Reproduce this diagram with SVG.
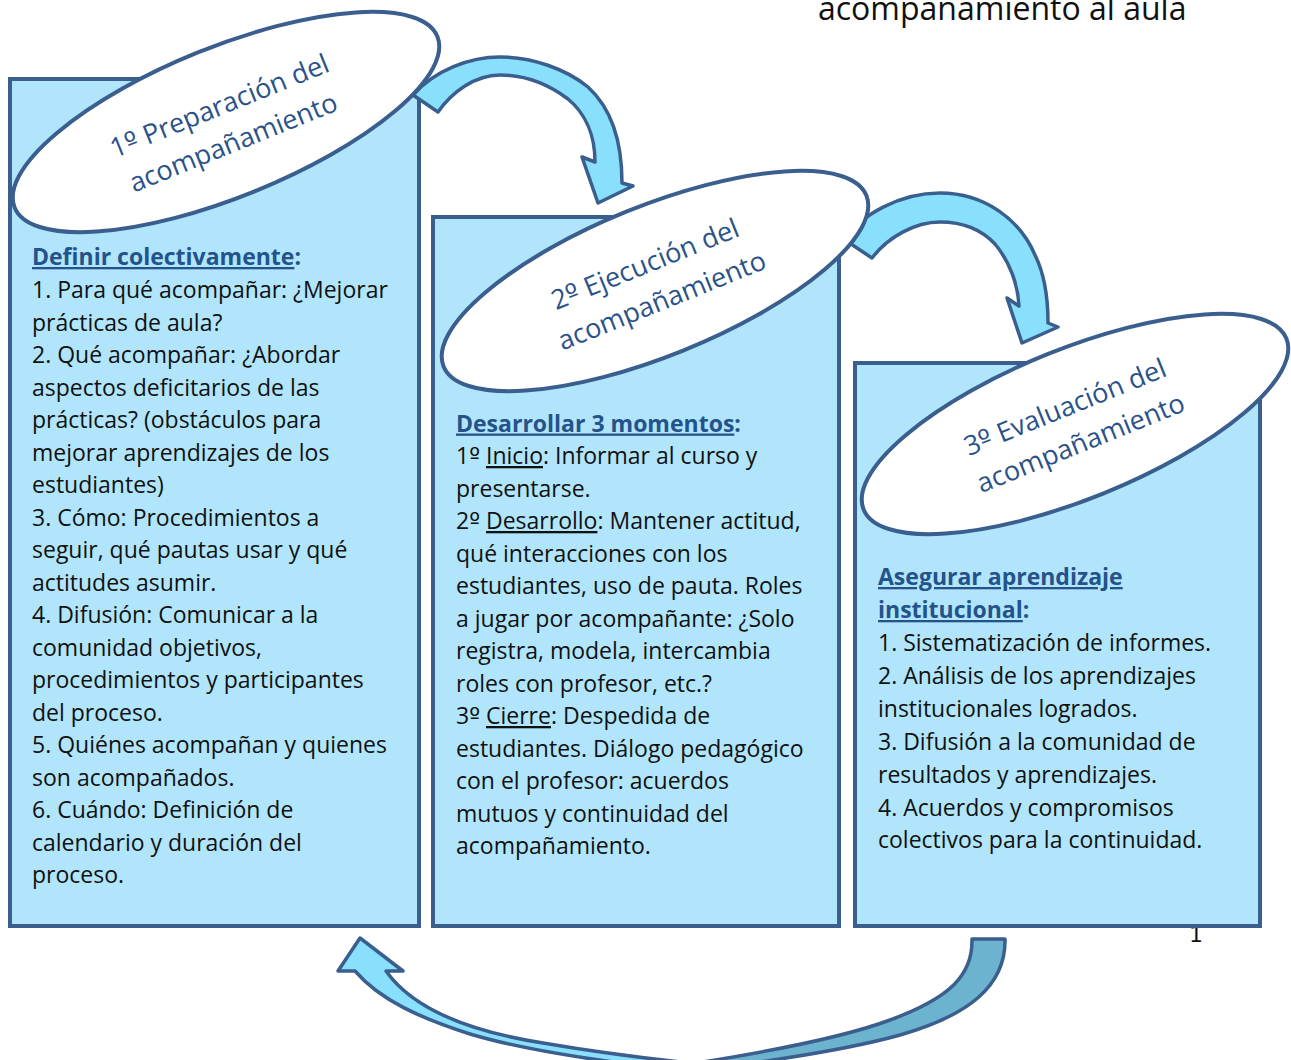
<svg xmlns="http://www.w3.org/2000/svg" width="1291" height="1060" viewBox="0 0 1291 1060">
<style>
.box{fill:#b0e5fc;stroke:#3a5f8e;stroke-width:4}
.ell{fill:#ffffff;stroke:#3a5f8e;stroke-width:4}
.arr{fill:#88e0fd;stroke:#3a5f8e;stroke-width:3.5;stroke-linejoin:round}
.arrd{fill:#6cb3cf;stroke:#3a5f8e;stroke-width:3.5;stroke-linejoin:round}
.t{font-family:"Open Sans",sans-serif;font-size:23px;fill:#111111}
.h{font-weight:bold;fill:#24528a}
.u{text-decoration:underline}
.o{font-family:"DejaVu Sans",sans-serif}
.et{font-family:"Open Sans",sans-serif;font-size:27px;fill:#2a5288;text-anchor:middle}
</style>
<rect width="1291" height="1060" fill="#ffffff"/>
<text x="818" y="20" font-family="Open Sans, sans-serif" font-size="32" fill="#111111">acompanamiento al aula</text>
<text x="1196" y="942" font-family="DejaVu Sans, sans-serif" font-size="22" fill="#111111" text-anchor="middle">1</text>

<g id="node1">
<rect class="box" x="10" y="79" width="409" height="847"/>
</g>
<g id="node2">
<rect class="box" x="433" y="217" width="406" height="709"/>
</g>
<g id="node3">
<rect class="box" x="855" y="363" width="405" height="563"/>
</g>

<g id="connectors">
<path class="arr" d="M413,95 C435,70 470,57 500,57 C532,57 566,69 588,87 C611,108 622,140 622,183 L633,186 L598,203 L582,157 L595,162 C595,135 585,113 568,99 C548,84 525,75 500,75 C475,75 452,92 438,112 Z"/>
<path class="arr" d="M845,240 C860,215 900,193 940,193 C985,193 1020,220 1035,255 C1045,275 1048,300 1048,323 L1058,327 L1022,343 L1007,298 L1019,306 C1018,285 1010,262 995,244 C980,228 960,222 940,222 C915,222 888,237 872,258 Z"/>
<path class="arrd" d="M972,939 L1005,939 C1006,985 970,1015 900,1035 C850,1049 780,1060 700,1070 L690,1064 C780,1050 850,1035 890,1020 C950,998 973,975 972,939 Z"/>
<path class="arr" d="M360,938 L403,971 L386,971 C410,1005 460,1030 543,1043 C590,1051 640,1058 700,1064 L700,1072 C620,1064 530,1052 470,1034 C420,1018 380,1000 355,971 L338,971 Z"/>
</g>

<g id="ellipse1">
<ellipse class="ell" cx="226" cy="122" rx="228" ry="75" transform="rotate(-22 226 122)"/>
<g transform="translate(226 122) rotate(-22)">
<text class="et" x="0" y="-8">1<tspan class="o">º</tspan> Preparación del</text>
<text class="et" x="-1" y="31">acompañamiento</text>
</g>
</g>
<g id="ellipse2">
<ellipse class="ell" cx="655" cy="281" rx="228" ry="75" transform="rotate(-22 655 281)"/>
<g transform="translate(655 281) rotate(-22)">
<text class="et" x="-3" y="-10">2<tspan class="o">º</tspan> Ejecución del</text>
<text class="et" x="-1" y="30">acompañamiento</text>
</g>
</g>
<g id="ellipse3">
<ellipse class="ell" cx="1075" cy="424" rx="228" ry="75" transform="rotate(-22 1075 424)"/>
<g transform="translate(1075 424) rotate(-22)">
<text class="et" x="-3" y="-10">3<tspan class="o">º</tspan> Evaluación del</text>
<text class="et" x="-2" y="29">acompañamiento</text>
</g>
</g>

<g id="text1" class="t">
<text x="32" y="265"><tspan class="h u">Definir colectivamente</tspan><tspan class="h">:</tspan></text>
<text x="32" y="298">1. Para qué acompañar: ¿Mejorar</text>
<text x="32" y="330.5">prácticas de aula?</text>
<text x="32" y="363">2. Qué acompañar: ¿Abordar</text>
<text x="32" y="395.5">aspectos deficitarios de las</text>
<text x="32" y="428">prácticas? (obstáculos para</text>
<text x="32" y="460.5">mejorar aprendizajes de los</text>
<text x="32" y="493">estudiantes)</text>
<text x="32" y="525.5">3. Cómo: Procedimientos a</text>
<text x="32" y="558">seguir, qué pautas usar y qué</text>
<text x="32" y="590.5">actitudes asumir.</text>
<text x="32" y="623">4. Difusión: Comunicar a la</text>
<text x="32" y="655.5">comunidad objetivos,</text>
<text x="32" y="688">procedimientos y participantes</text>
<text x="32" y="720.5">del proceso.</text>
<text x="32" y="753">5. Quiénes acompañan y quienes</text>
<text x="32" y="785.5">son acompañados.</text>
<text x="32" y="818">6. Cuándo: Definición de</text>
<text x="32" y="850.5">calendario y duración del</text>
<text x="32" y="883">proceso.</text>
</g>

<g id="text2" class="t">
<text x="456" y="431.5"><tspan class="h u">Desarrollar 3 momentos</tspan><tspan class="h">:</tspan></text>
<text x="456" y="464">1<tspan class="o">º</tspan> <tspan class="u">Inicio</tspan>: Informar al curso y</text>
<text x="456" y="496.5">presentarse.</text>
<text x="456" y="529">2<tspan class="o">º</tspan> <tspan class="u">Desarrollo</tspan>: Mantener actitud,</text>
<text x="456" y="561.5">qué interacciones con los</text>
<text x="456" y="594">estudiantes, uso de pauta. Roles</text>
<text x="456" y="626.5">a jugar por acompañante: ¿Solo</text>
<text x="456" y="659">registra, modela, intercambia</text>
<text x="456" y="691.5">roles con profesor, etc.?</text>
<text x="456" y="724">3<tspan class="o">º</tspan> <tspan class="u">Cierre</tspan>: Despedida de</text>
<text x="456" y="756.5">estudiantes. Diálogo pedagógico</text>
<text x="456" y="789">con el profesor: acuerdos</text>
<text x="456" y="821.5">mutuos y continuidad del</text>
<text x="456" y="854">acompañamiento.</text>
</g>

<g id="text3" class="t">
<text x="878" y="585"><tspan class="h u">Asegurar aprendizaje</tspan></text>
<text x="878" y="618"><tspan class="h u">institucional</tspan><tspan class="h">:</tspan></text>
<text x="878" y="651">1. Sistematización de informes.</text>
<text x="878" y="684">2. Análisis de los aprendizajes</text>
<text x="878" y="716.5">institucionales logrados.</text>
<text x="878" y="749.5">3. Difusión a la comunidad de</text>
<text x="878" y="782.5">resultados y aprendizajes.</text>
<text x="878" y="815.5">4. Acuerdos y compromisos</text>
<text x="878" y="848">colectivos para la continuidad.</text>
</g>
</svg>
